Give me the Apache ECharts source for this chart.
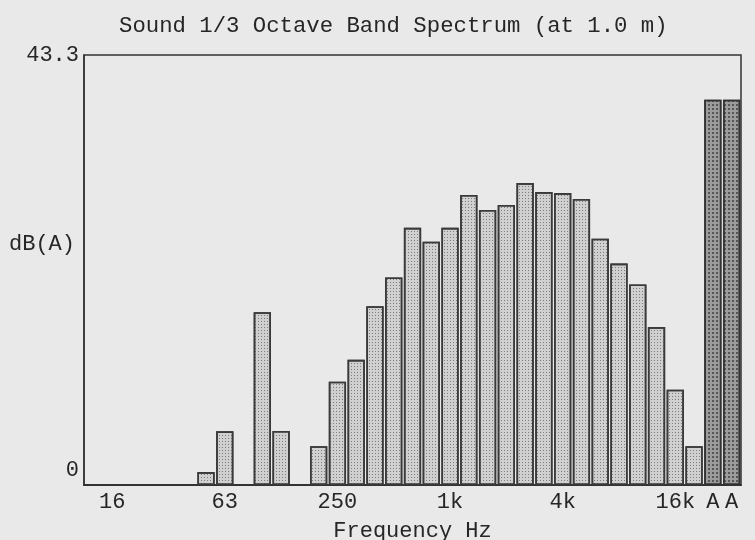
<!DOCTYPE html>
<html>
<head>
<meta charset="utf-8">
<script src="https://cdn.jsdelivr.net/npm/echarts@6/dist/echarts.min.js"></script>
<style>
html,body{margin:0;padding:0;background:#e9e9e9;}
#chart{width:755px;height:540px;}
</style>
</head>
<body>
<div id="chart"></div>
<script>
// 1/3 octave band centre frequencies (Hz) followed by the two overall A-weighted totals
var bandLabels = ['12.5','16','20','25','31.5','40','50','63','80','100','125','160','200','250','315','400','500','630','800','1k','1.25k','1.6k','2k','2.5k','3.15k','4k','5k','6.3k','8k','10k','12.5k','16k','20k'];
var bandValues = [null,null,null,null,null,null,1.3,5.4,null,17.4,5.45,null,3.9,10.4,12.6,18.0,20.9,25.9,24.5,25.9,29.2,27.7,28.2,30.4,29.5,29.4,28.8,24.8,22.3,20.2,15.9,9.6,3.9];
var totalLabels = ['A','A'];
var totalValues = [38.8,38.8];
// tick labels shown on the frequency axis (index -> text)
var tickLabels = {1:'16',7:'63',13:'250',19:'1k',25:'4k',31:'16k',33:'A',34:'A'};
var tickIdx = [1,4,7,10,13,16,19,22,25,28,31,33,34];
var yMax = 43.3;
var yName = 'dB(A)';
var xName = 'Frequency Hz';
var titleText = 'Sound 1/3 Octave Band Spectrum (at 1.0 m)';

var categories = bandLabels.concat(totalLabels.map(function(l,i){return l + (i+1);}));
var FONT = '"Liberation Mono", monospace';
var ink = '#262626';

var bandStyle = {
  color: '#d0d0d0',
  borderColor: '#3a3a3a',
  borderWidth: 1.6,
  decal: {symbol:'rect', symbolSize:1, dashArrayX:[1,2], dashArrayY:[1,2], color:'rgba(70,70,70,0.6)'}
};
var totalStyle = {
  color: '#9c9c9c',
  borderColor: '#333',
  borderWidth: 1.6,
  decal: {symbol:'rect', symbolSize:1, dashArrayX:[2,2], dashArrayY:[2,2], color:'rgba(40,40,40,0.6)'}
};

var seriesData = bandValues.map(function(v){ return v === null ? '-' : {value:v, itemStyle:bandStyle}; })
  .concat(totalValues.map(function(v){ return {value:v, itemStyle:totalStyle}; }));

var chart = echarts.init(document.getElementById('chart'));
chart.setOption({
  backgroundColor: '#e9e9e9',
  animation: false,
  title: {
    text: titleText,
    left: 114, top: 10,
    textStyle: {fontFamily: FONT, fontSize: 22.3, fontWeight: 'normal', color: ink}
  },
  grid: {left: 84, right: 14, top: 55, bottom: 55, outerBoundsMode: 'none', containLabel: false, show: true, borderColor: '#333', borderWidth: 1.5, backgroundColor: 'transparent'},
  xAxis: {
    type: 'category',
    data: categories,
    name: xName,
    nameLocation: 'middle',
    nameGap: 35,
    nameMoveOverlap: false,
    nameTextStyle: {fontFamily: FONT, fontSize: 22, color: ink},
    axisLine: {lineStyle: {color: '#333', width: 2}},
    axisTick: {
      alignWithLabel: true, length: 4,
      interval: function(i){ return tickIdx.indexOf(i) >= 0; },
      lineStyle: {color: '#333', width: 1.5}
    },
    axisLabel: {
      interval: function(i){ return tickLabels[i] !== undefined; },
      formatter: function(v, i){ return tickLabels[i] || ''; },
      fontFamily: FONT, fontSize: 22, color: ink, margin: 6
    },
    splitLine: {show: false}
  },
  yAxis: {
    type: 'value',
    min: 0, max: yMax, interval: yMax,
    name: '{n|' + yName + '}',
    nameLocation: 'middle',
    nameRotate: 0,
    nameGap: 9,
    nameMoveOverlap: false,
    nameTextStyle: {
      align: 'right', verticalAlign: 'middle',
      rich: {n: {fontFamily: FONT, fontSize: 22, color: ink, padding: [0,0,52,0]}}
    },
    axisLine: {show: true, lineStyle: {color: '#333', width: 1.5}},
    axisTick: {show: false},
    splitLine: {show: false},
    axisLabel: {
      margin: 5,
      formatter: function(v){ return v === 0 ? '{z|0}' : '{t|' + yMax.toFixed(1) + '}'; },
      rich: {
        z: {fontFamily: FONT, fontSize: 22, color: ink, padding: [0,0,29,0]},
        t: {fontFamily: FONT, fontSize: 22, color: ink}
      }
    }
  },
  series: [{
    type: 'bar',
    data: seriesData,
    barCategoryGap: '8%',
    itemStyle: bandStyle
  }]
});
</script>
</body>
</html>
